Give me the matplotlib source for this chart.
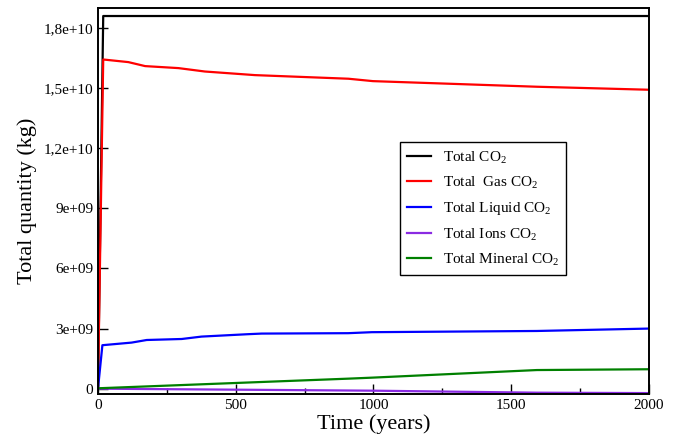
import matplotlib
matplotlib.use("Agg")
import matplotlib.pyplot as plt
from matplotlib.ticker import MultipleLocator

plt.rcParams['font.family'] = ['Liberation Serif', 'DejaVu Serif']
plt.rcParams['mathtext.fontset'] = 'custom'
plt.rcParams['mathtext.rm'] = 'Liberation Serif'

# time (years) and quantities (kg)
t_total = [0, 19, 500, 1000, 1500, 2000]
total = [0, 1.86e10, 1.86e10, 1.86e10, 1.86e10, 1.86e10]

t_gas = [0, 19, 110, 171, 292, 388, 570, 909, 998, 1593, 2000]
gas = [0, 1.643e10, 1.63e10, 1.61e10, 1.60e10, 1.583e10, 1.565e10,
       1.547e10, 1.535e10, 1.507e10, 1.492e10]

t_liq = [0, 16, 122, 177, 304, 376, 545, 594, 908, 994, 1593, 2000]
liquid = [0, 2.17e9, 2.30e9, 2.43e9, 2.48e9, 2.60e9, 2.72e9, 2.75e9,
          2.77e9, 2.82e9, 2.88e9, 3.0e9]

t_ion = [0, 500, 1000, 1593, 2000]
ions = [0, -0.05e9, -0.1e9, -0.2e9, -0.22e9]

t_min = [0, 908, 994, 1593, 2000]
mineral = [0.02e9, 0.5e9, 0.55e9, 0.93e9, 0.97e9]

yticks = [0, 3e9, 6e9, 9e9, 1.2e10, 1.5e10, 1.8e10]
ytick_labels = ['0', '3e+09', '6e+09', '9e+09', '1,2e+10', '1,5e+10', '1,8e+10']

fig = plt.figure(figsize=(6.8, 4.42), dpi=100)
ax = fig.add_axes([0.1441, 0.1093, 0.8103, 0.8726])

ax.plot(t_total, total, color='black', lw=1.6, label='Total CO$_2$')
ax.plot(t_gas, gas, color='red', lw=1.6, label='Total  Gas CO$_2$')
ax.plot(t_liq, liquid, color='#0000ff', lw=1.6, label='Total Liquid CO$_2$')
ax.plot(t_ion, ions, color='#8a2be2', lw=1.6, label='Total Ions CO$_2$')
ax.plot(t_min, mineral, color='#008000', lw=1.6, label='Total Mineral CO$_2$')

ax.set_xlim(0, 2000)
ax.set_ylim(-0.25e9, 1.9e10)
ax.xaxis.set_major_locator(MultipleLocator(500))
ax.xaxis.set_minor_locator(MultipleLocator(250))
ax.set_yticks(yticks)
ax.set_yticklabels(ytick_labels)
ax.tick_params(which='both', direction='in', labelsize=11, top=False, right=False)
ax.tick_params(which='major', length=7, width=1)
ax.tick_params(which='minor', length=4, width=1)
for s in ax.spines.values():
    s.set_linewidth(1.4)

ax.set_xlabel('Time (years)', fontsize=16, labelpad=2)
ax.set_ylabel('Total quantity (kg)', fontsize=16, labelpad=5)

leg = ax.legend(loc='upper left', bbox_to_anchor=(0.548, 0.652), fontsize=11,
                handlelength=1.6, fancybox=False, framealpha=1,
                edgecolor='black', borderpad=0.45, labelspacing=0.58,
                borderaxespad=0, handletextpad=0.75)
leg.get_frame().set_linewidth(1.0)

fig.savefig('out.png', dpi=100)
